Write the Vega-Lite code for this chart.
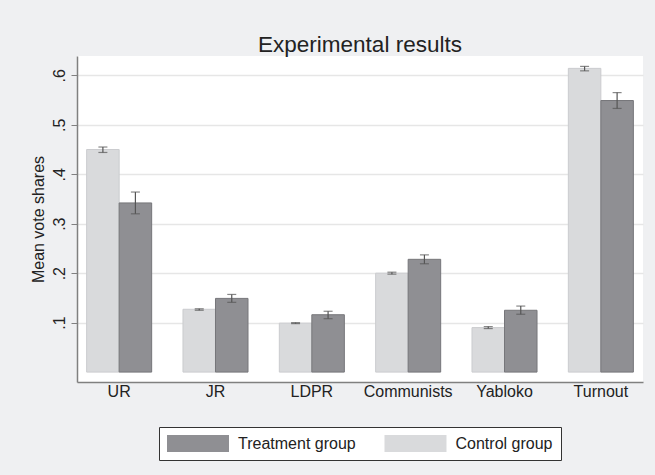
{
  "$schema": "https://vega.github.io/schema/vega-lite/v6.json",
  "width": 566,
  "height": 326,
  "autosize": {"type": "none"},
  "padding": {"left": 77, "top": 56, "right": 12, "bottom": 93},
  "background": "#eff0f2",
  "title": {"text": "Experimental results", "fontSize": 22.5, "font": "Liberation Sans", "fontWeight": "normal", "color": "#222222", "offset": 0, "anchor": "middle"},
  "config": {
    "view": {"fill": "white", "stroke": null},
    "font": "Liberation Sans",
    "legend": {"layout": {"expr": "{bottom: {anchor: 'middle'}}"}}
  },
  "data": {"values": [
    {"party": "UR", "group": "Control group", "mean": 0.450, "lo": 0.444, "hi": 0.455},
    {"party": "UR", "group": "Treatment group", "mean": 0.342, "lo": 0.320, "hi": 0.364},
    {"party": "JR", "group": "Control group", "mean": 0.127, "lo": 0.125, "hi": 0.128},
    {"party": "JR", "group": "Treatment group", "mean": 0.149, "lo": 0.141, "hi": 0.157},
    {"party": "LDPR", "group": "Control group", "mean": 0.099, "lo": 0.098, "hi": 0.100},
    {"party": "LDPR", "group": "Treatment group", "mean": 0.116, "lo": 0.108, "hi": 0.123},
    {"party": "Communists", "group": "Control group", "mean": 0.200, "lo": 0.198, "hi": 0.202},
    {"party": "Communists", "group": "Treatment group", "mean": 0.228, "lo": 0.219, "hi": 0.237},
    {"party": "Yabloko", "group": "Control group", "mean": 0.090, "lo": 0.088, "hi": 0.092},
    {"party": "Yabloko", "group": "Treatment group", "mean": 0.125, "lo": 0.117, "hi": 0.1335},
    {"party": "Turnout", "group": "Control group", "mean": 0.614, "lo": 0.609, "hi": 0.618},
    {"party": "Turnout", "group": "Treatment group", "mean": 0.549, "lo": 0.533, "hi": 0.565}
  ]},
  "encoding": {
    "x": {
      "field": "party", "type": "nominal",
      "sort": ["UR", "JR", "LDPR", "Communists", "Yabloko", "Turnout"],
      "scale": {"paddingInner": 0.325, "paddingOuter": 0.1},
      "axis": {"title": null, "labelAngle": 0, "ticks": false, "domainColor": "#808080", "domainWidth": 1.5, "labelFontSize": 16, "labelColor": "#222222", "labelPadding": 1, "labelFont": "Liberation Sans"}
    },
    "xOffset": {
      "field": "group", "type": "nominal",
      "sort": ["Control group", "Treatment group"],
      "scale": {"paddingInner": 0, "paddingOuter": 0}
    }
  },
  "layer": [
    {
      "mark": {"type": "bar", "strokeWidth": 1},
      "encoding": {
        "y": {
          "field": "mean", "type": "quantitative", "title": "Mean vote shares",
          "scale": {"domain": [-0.02, 0.639], "nice": false, "zero": false},
          "axis": {
            "values": [0.1, 0.2, 0.3, 0.4, 0.5, 0.6],
            "labelExpr": "slice(format(datum.value, '.1f'), 1)",
            "labelAngle": 270, "labelAlign": "center", "labelBaseline": "bottom",
            "tickSize": 6, "tickColor": "#808080", "domainColor": "#808080", "domainWidth": 1.5,
            "grid": true, "gridColor": "#e6e6e6", "gridWidth": 1.5,
            "labelFontSize": 16, "labelColor": "#222222", "labelPadding": 4, "labelFont": "Liberation Sans",
            "titleFontSize": 16, "titleFontWeight": "normal", "titleColor": "#222222", "titlePadding": 5, "titleFont": "Liberation Sans"
          }
        },
        "y2": {"datum": 0},
        "color": {
          "field": "group", "type": "nominal",
          "scale": {"domain": ["Treatment group", "Control group"], "range": ["#8f8f93", "#d9dadc"]},
          "legend": {
            "orient": "bottom", "direction": "horizontal", "title": null,
            "symbolType": "M-1,-1L6.294,-1L6.294,1L-1,1Z", "symbolSize": 289,
            "symbolStrokeWidth": 0,
            "labelFontSize": 16, "labelFont": "Liberation Sans", "labelColor": "#222222",
            "labelOffset": 54, "columnPadding": 28.5, "padding": 8,
            "strokeColor": "#333333", "fillColor": "white", "offset": 28
          }
        },
        "stroke": {
          "field": "group", "type": "nominal",
          "scale": {"domain": ["Treatment group", "Control group"], "range": ["#76767a", "#cbcccf"]},
          "legend": null
        }
      }
    },
    {
      "mark": {"type": "rule", "color": "#555555", "strokeWidth": 1.2},
      "encoding": {
        "y": {"field": "lo", "type": "quantitative", "title": "Mean vote shares"},
        "y2": {"field": "hi"}
      }
    },
    {
      "mark": {"type": "tick", "orient": "horizontal", "size": 9, "thickness": 1.2, "color": "#555555"},
      "encoding": {
        "y": {"field": "lo", "type": "quantitative", "title": "Mean vote shares"}
      }
    },
    {
      "mark": {"type": "tick", "orient": "horizontal", "size": 9, "thickness": 1.2, "color": "#555555"},
      "encoding": {
        "y": {"field": "hi", "type": "quantitative", "title": "Mean vote shares"}
      }
    }
  ]
}
